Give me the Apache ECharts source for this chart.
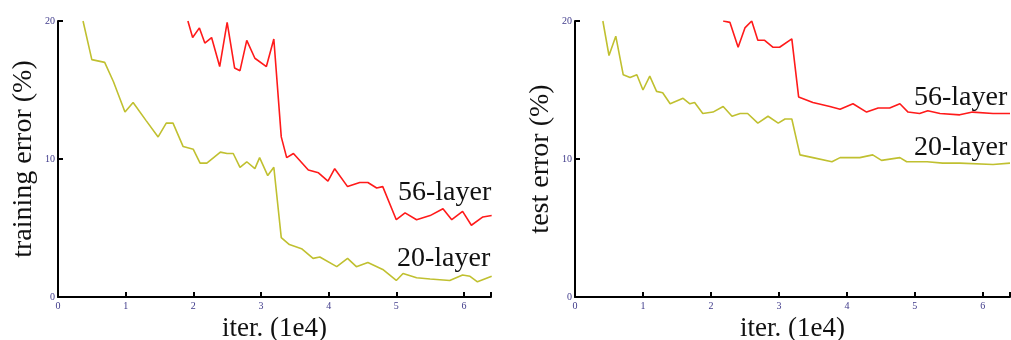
<!DOCTYPE html>
<html><head><meta charset="utf-8">
<script src="https://cdn.jsdelivr.net/npm/echarts@6/dist/echarts.min.js"></script>
<style>html,body{margin:0;padding:0;background:#fff}#c{width:1011px;height:340px}</style>
</head><body><div id="c"></div>
<script>
const xTicks = [0, 1, 2, 3, 4, 5, 6];
const yTicks = [0, 10, 20];
const seriesNames = ['20-layer', '56-layer'];
const train20 = [[0.37,20],[0.5,17.2],[0.69,17.0],[0.82,15.6],[0.99,13.4],[1.11,14.1],[1.3,12.8],[1.48,11.6],[1.6,12.6],[1.7,12.6],[1.85,10.9],[2.0,10.7],[2.1,9.7],[2.2,9.7],[2.4,10.5],[2.5,10.4],[2.59,10.4],[2.69,9.4],[2.79,9.8],[2.91,9.3],[2.98,10.1],[3.1,8.8],[3.19,9.4],[3.3,4.3],[3.42,3.8],[3.6,3.5],[3.77,2.8],[3.87,2.9],[4.12,2.2],[4.28,2.8],[4.41,2.2],[4.58,2.5],[4.8,2.0],[5.0,1.2],[5.1,1.7],[5.3,1.4],[5.5,1.3],[5.79,1.2],[5.98,1.6],[6.09,1.5],[6.2,1.1],[6.41,1.5]];
const train56 = [[1.92,20],[1.99,18.8],[2.09,19.5],[2.17,18.4],[2.27,18.8],[2.39,16.7],[2.5,19.9],[2.61,16.6],[2.69,16.4],[2.79,18.6],[2.91,17.3],[3.08,16.7],[3.19,18.7],[3.3,11.6],[3.38,10.1],[3.48,10.4],[3.7,9.2],[3.85,9.0],[3.99,8.4],[4.09,9.3],[4.28,8.0],[4.46,8.3],[4.58,8.3],[4.71,7.9],[4.8,8.0],[5.0,5.6],[5.13,6.1],[5.3,5.6],[5.5,5.9],[5.69,6.4],[5.82,5.6],[5.98,6.2],[6.11,5.2],[6.28,5.8],[6.41,5.9]];
const test20 = [[0.41,20],[0.5,17.5],[0.6,18.9],[0.71,16.1],[0.81,15.9],[0.91,16.1],[1.0,15.0],[1.1,16.0],[1.2,14.9],[1.29,14.8],[1.4,14.0],[1.59,14.4],[1.69,14.0],[1.76,14.1],[1.88,13.3],[2.03,13.4],[2.18,13.8],[2.31,13.1],[2.43,13.3],[2.54,13.3],[2.69,12.6],[2.84,13.1],[2.99,12.6],[3.09,12.9],[3.19,12.9],[3.31,10.3],[3.5,10.1],[3.78,9.8],[3.9,10.1],[4.19,10.1],[4.38,10.3],[4.51,9.9],[4.78,10.1],[4.88,9.8],[5.18,9.8],[5.41,9.7],[5.66,9.7],[6.15,9.6],[6.4,9.7]];
const test56 = [[2.18,20],[2.28,19.9],[2.4,18.1],[2.5,19.5],[2.6,20],[2.69,18.6],[2.79,18.6],[2.91,18.1],[3.01,18.1],[3.19,18.7],[3.29,14.5],[3.5,14.1],[3.75,13.8],[3.9,13.6],[4.09,14.0],[4.29,13.4],[4.46,13.7],[4.63,13.7],[4.78,14.0],[4.9,13.4],[5.07,13.3],[5.19,13.5],[5.37,13.3],[5.66,13.2],[5.85,13.4],[6.15,13.3],[6.4,13.3]];

const SERIF = '"Liberation Serif", "DejaVu Serif", serif';
const TICKC = '#3f3a8a';
const YEL = '#c0c030';
const RED = '#ff1a1a';

function xAx(gi){
  return {type:'value', gridIndex:gi, min:xTicks[0], max:6.4, interval:1,
    name:'iter. (1e4)', nameLocation:'middle', nameGap:14,
    nameTextStyle:{fontFamily:SERIF, fontSize:27, color:'#111', verticalAlign:'top'},
    axisLine:{lineStyle:{color:'#000', width:2}},
    axisTick:{inside:true, length:5, lineStyle:{color:'#000', width:2}},
    axisLabel:{fontFamily:SERIF, fontSize:10, color:TICKC, margin:4,
      formatter:v => xTicks.includes(v) ? String(v) : ''},
    splitLine:{show:false}};
}
function yAx(gi, name){
  return {type:'value', gridIndex:gi, min:yTicks[0], max:yTicks[2], interval:10,
    name:name, nameLocation:'middle', nameGap:20,
    nameTextStyle:{fontFamily:SERIF, fontSize:28, color:'#111'},
    axisLine:{show:true, lineStyle:{color:'#000', width:2}},
    axisTick:{show:true, inside:true, length:5, lineStyle:{color:'#000', width:2}},
    axisLabel:{fontFamily:SERIF, fontSize:10, color:TICKC, margin:3},
    splitLine:{show:false}};
}
function ln(gi, data, color){
  return {type:'line', xAxisIndex:gi, yAxisIndex:gi, data:data, showSymbol:false,
    symbol:'none', lineStyle:{color:color, width:1.6}, animation:false, clip:true};
}
const chart = echarts.init(document.getElementById('c'));
chart.setOption({
  animation:false,
  grid:[{left:58, top:21, width:433, height:276, outerBoundsMode:'none', containLabel:false},
        {left:575, top:21, width:435, height:276, outerBoundsMode:'none', containLabel:false}],
  xAxis:[xAx(0), xAx(1)],
  yAxis:[yAx(0,'training error (%)'), yAx(1,'test error (%)')],
  series:[ln(0,train20,YEL), ln(0,train56,RED), ln(1,test20,YEL), ln(1,test56,RED)],
  graphic:[
    {type:'text', left:398, top:179, style:{text:seriesNames[1], font:'28px '+SERIF, fill:'#111'}},
    {type:'text', left:397, top:245, style:{text:seriesNames[0], font:'28px '+SERIF, fill:'#111'}},
    {type:'text', left:914, top:84, style:{text:seriesNames[1], font:'28px '+SERIF, fill:'#111'}},
    {type:'text', left:914, top:134, style:{text:seriesNames[0], font:'28px '+SERIF, fill:'#111'}}
  ]
});
</script></body></html>
